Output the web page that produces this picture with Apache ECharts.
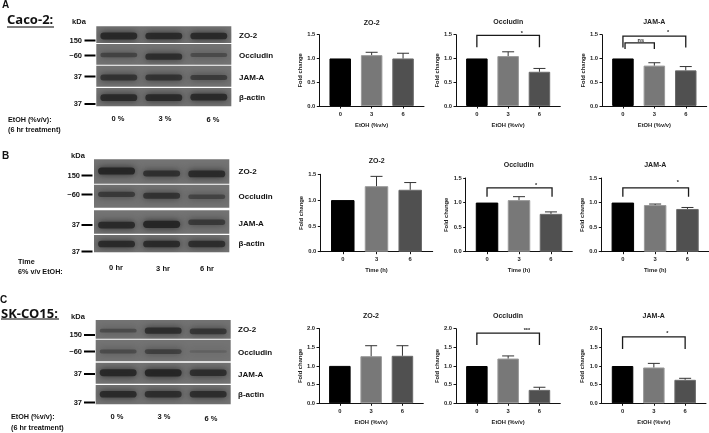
<!DOCTYPE html>
<html><head><meta charset="utf-8">
<style>html,body{margin:0;padding:0;background:#fff}#c{width:709px;height:433px;filter:blur(0.4px)}</style>
<script src="https://cdn.jsdelivr.net/npm/echarts@6/dist/echarts.min.js"></script>
</head><body><div id="c"></div>
<script>
// ---- bar chart data ----
const xTicks = [0, 3, 6];
const caco_zo2 = [1.0, 1.07, 1.0];      const caco_zo2_err = [null, 1.13, 1.11];
const caco_occ = [1.0, 1.05, 0.72];     const caco_occ_err = [null, 1.14, 0.79];
const caco_jam = [1.0, 0.85, 0.75];     const caco_jam_err = [null, 0.91, 0.83];
const time_zo2 = [1.0, 1.27, 1.2];      const time_zo2_err = [null, 1.46, 1.34];
const time_occ = [1.0, 1.05, 0.77];     const time_occ_err = [null, 1.12, 0.81];
const time_jam = [1.0, 0.95, 0.87];     const time_jam_err = [null, 0.97, 0.9];
const sk_zo2 = [1.0, 1.26, 1.27];       const sk_zo2_err = [null, 1.54, 1.54];
const sk_occ = [1.0, 1.2, 0.36];        const sk_occ_err = [null, 1.27, 0.43];
const sk_jam = [1.0, 0.96, 0.63];       const sk_jam_err = [null, 1.07, 0.67];
// brackets: from x, to x, top value, foot value
const caco_occ_br = [[0, 6, 1.486, 1.234]];
const caco_jam_br = [[0, 6, 1.47, 1.23], [0.2, 3, 1.33, 1.2]];
const time_occ_br = [[0, 6.1, 1.297, 1.12]];
const time_jam_br = [[0, 6.1, 1.297, 1.12]];
const sk_occ_br = [[0, 6, 1.88, 1.56]];
const sk_jam_br = [[0, 6, 1.78, 1.455]];
// significance labels: x, value, text
const caco_occ_sig = [[4.3, 1.53, '*']];
const caco_jam_sig = [[1.7, 1.37, 'ns'], [4.3, 1.54, '*']];
const time_occ_sig = [[4.6, 1.34, '*']];
const time_jam_sig = [[5.1, 1.4, '*']];
const sk_occ_sig = [[4.8, 1.94, '***']];
const sk_jam_sig = [[4.3, 1.87, '*']];
// ---- blot band data: vertical place in lane strip and strength ----
const laneNames = ['a', 'b', 'c'];
const caco_bands = [
  {pos: [.42, .42, .42], str: [.9, .85, .85]},
  {pos: [.47, .39, .47], str: [.45, .8, .35]},
  {pos: [.44, .44, .44], str: [.7, .7, .55]},
  {pos: [.47, .47, .5], str: [.85, .85, .85]}];
const time_bands = [
  {pos: [.52, .42, .40], str: [.95, .75, .85]},
  {pos: [.58, .52, .48], str: [.6, .7, .45]},
  {pos: [.37, .40, .49], str: [.85, .95, .6]},
  {pos: [.48, .48, .48], str: [.85, .85, .8]}];
const sk_bands = [
  {pos: [.43, .43, .39], str: [.35, .8, .65]},
  {pos: [.45, .45, .45], str: [.35, .5, .08]},
  {pos: [.52, .52, .52], str: [.9, .95, .8]},
  {pos: [.52, .52, .52], str: [.85, .8, .8]}];
// ---- layout ----
const barColors = ['#000000', '#787878', '#505050'];
const barBorders = ['#000000', '#9a9a9a', '#6a6a6a'];
const charts = [
 {t:'ZO-2',    d:caco_zo2,e:caco_zo2_err,name:'EtOH (%v/v)',max:1.5,step:.5,l:319.3,r:424,top:34.7,bot:106,bw:21.5,tx:371.7,ty:23.7},
 {t:'Occludin',d:caco_occ,e:caco_occ_err,name:'EtOH (%v/v)',max:1.5,step:.5,l:456,r:560.3,top:34.7,bot:106,bw:21.5,tx:508.3,ty:23,br:caco_occ_br,sig:caco_occ_sig},
 {t:'JAM-A',   d:caco_jam,e:caco_jam_err,name:'EtOH (%v/v)',max:1.5,step:.5,l:602,r:706.7,top:34.7,bot:106,bw:21.5,tx:654.3,ty:23,br:caco_jam_br,sig:caco_jam_sig},
 {t:'ZO-2',    d:time_zo2,e:time_zo2_err,name:'Time (h)',max:1.5,step:.5,l:320.3,r:432.7,top:174.3,bot:251.7,bw:23.5,tx:376.7,ty:161.7},
 {t:'Occludin',d:time_occ,e:time_occ_err,name:'Time (h)',max:1.5,step:.5,l:465.7,r:572.3,top:178,bot:251.7,bw:22.5,tx:518.7,ty:166,br:time_occ_br,sig:time_occ_sig},
 {t:'JAM-A',   d:time_jam,e:time_jam_err,name:'Time (h)',max:1.5,step:.5,l:601.3,r:709,top:178,bot:251.7,bw:22.5,tx:655.3,ty:166,br:time_jam_br,sig:time_jam_sig},
 {t:'ZO-2',    d:sk_zo2,e:sk_zo2_err,name:'EtOH (%v/v)',max:2,step:.5,l:319,r:423.3,top:328.5,bot:403.3,bw:21.5,tx:371,ty:316.3},
 {t:'Occludin',d:sk_occ,e:sk_occ_err,name:'EtOH (%v/v)',max:2,step:.5,l:456,r:560.3,top:328.7,bot:403.3,bw:21.5,tx:508,ty:316.3,br:sk_occ_br,sig:sk_occ_sig},
 {t:'JAM-A',   d:sk_jam,e:sk_jam_err,name:'EtOH (%v/v)',max:2,step:.5,l:601.7,r:706,top:328.7,bot:403.3,bw:21.5,tx:653.7,ty:316.3,br:sk_jam_br,sig:sk_jam_sig}
];
const blots = [
 {x:96.3,w:135,rows:[[26.3,43],[44,64.7],[65.7,86.7],[88,106.3]],bands:caco_bands},
 {x:94,w:135.3,rows:[[159.3,183.7],[184.7,207.7],[210.3,233.7],[235,252.3]],bands:time_bands},
 {x:95.7,w:135,rows:[[320,338.7],[339.7,361.3],[362.7,383.7],[385,404.3]],bands:sk_bands}
];
const font = '"Liberation Sans",Arial,sans-serif';
const grid=[],xAxis=[],yAxis=[],series=[],title=[],graphic=[];

charts.forEach((c)=>{
  const i=grid.length;
  grid.push({left:c.l,top:c.top,width:c.r-c.l,height:c.bot-c.top,containLabel:false});
  xAxis.push({gridIndex:i,type:'value',min:-2,max:8,
    name:c.name,nameLocation:'middle',nameGap:16,
    nameTextStyle:{fontFamily:font,fontWeight:'bold',fontSize:5.8,color:'#222'},
    axisLine:{show:true,onZero:false,lineStyle:{color:'#111',width:1}},
    axisTick:{show:true,length:2.5,customValues:xTicks,lineStyle:{color:'#111',width:1}},
    axisLabel:{show:true,customValues:xTicks,margin:5,fontFamily:font,fontWeight:'bold',fontSize:5.8,color:'#222'},
    splitLine:{show:false}});
  yAxis.push({gridIndex:i,type:'value',min:0,max:c.max,interval:c.step,
    name:'Fold change',nameLocation:'middle',nameGap:15.5,
    nameTextStyle:{fontFamily:font,fontWeight:'bold',fontSize:5.8,color:'#222'},
    axisLine:{show:true,onZero:false,lineStyle:{color:'#111',width:1}},
    axisTick:{show:true,length:2.5,lineStyle:{color:'#111',width:1}},
    axisLabel:{margin:4,fontFamily:font,fontWeight:'bold',fontSize:5.8,color:'#222',formatter:v=>v.toFixed(1)},
    splitLine:{show:false}});
  title.push({text:c.t,left:c.tx,top:c.ty-4,textAlign:'center',padding:0,
    textStyle:{fontFamily:font,fontWeight:'bold',fontSize:7,color:'#222'}});
  series.push({type:'bar',xAxisIndex:i,yAxisIndex:i,barWidth:c.bw,
    data:c.d.map((v,k)=>({value:[xTicks[k],v],itemStyle:{color:barColors[k],borderColor:barBorders[k],borderWidth:1}}))});
  series.push({type:'custom',xAxisIndex:i,yAxisIndex:i,z:5,clip:false,
    data:c.e.map((v,k)=>[xTicks[k],c.d[k],v]).filter(r=>r[2]!==null),
    renderItem:(p,api)=>{
      const a=api.coord([api.value(0),api.value(1)]),b=api.coord([api.value(0),api.value(2)]);
      const st={stroke:'#333',lineWidth:1,fill:null};
      return {type:'group',children:[
        {type:'line',shape:{x1:a[0],y1:a[1],x2:b[0],y2:b[1]},style:st},
        {type:'line',shape:{x1:b[0]-6,y1:b[1],x2:b[0]+6,y2:b[1]},style:st}]};
    }});
  if(c.br) series.push({type:'custom',xAxisIndex:i,yAxisIndex:i,z:6,clip:false,data:c.br,
    renderItem:(p,api)=>{
      const t0=api.coord([api.value(0),api.value(2)]),t1=api.coord([api.value(1),api.value(2)]);
      const f=api.coord([api.value(0),api.value(3)])[1];
      return {type:'polyline',shape:{points:[[t0[0],f],t0,t1,[t1[0],f]]},style:{stroke:'#1a1a1a',lineWidth:1.3,fill:null}};
    }});
  if(c.sig) series.push({type:'custom',xAxisIndex:i,yAxisIndex:i,z:6,clip:false,data:c.sig,
    dimensions:['x','y','t'],encode:{x:0,y:1},
    renderItem:(p,api)=>{
      const q=api.coord([api.value(0),api.value(1)]);
      return {type:'text',style:{x:q[0],y:q[1],text:c.sig[p.dataIndex][2],textAlign:'center',textVerticalAlign:'middle',
        fontFamily:font,fontWeight:'bold',fontSize:5.5,fill:'#222'}};
    }});
});

blots.forEach(b=>{
  b.rows.forEach((r,ri)=>{
    const i=grid.length;
    grid.push({show:true,left:b.x,top:r[0],width:b.w,height:r[1]-r[0],backgroundColor:'#737373',borderWidth:0});
    xAxis.push({gridIndex:i,type:'category',data:laneNames,show:false});
    yAxis.push({gridIndex:i,type:'value',min:0,max:1,show:false});
    const bd=b.bands[ri];
    series.push({type:'custom',xAxisIndex:i,yAxisIndex:i,clip:true,
      data:bd.pos.map((v,k)=>[k,v,bd.str[k]]),
      renderItem:(p,api)=>{
        const q=api.coord([api.value(0),api.value(1)]),s=api.value(2);
        const w=api.size([1,0])[0]*0.82,h=2+s*5.5;
        return {type:'rect',shape:{x:q[0]-w/2,y:q[1]-h/2,width:w,height:h,r:h/2},
          style:{fill:'#242424',opacity:.12+.85*s,shadowBlur:7,shadowColor:'#242424'}};
      }});
  });
});

function txt(x,y,s,size,align,weight,fam){
  graphic.push({type:'text',silent:true,style:{x,y,text:s,fontFamily:fam||font,fontWeight:weight||'bold',fontSize:size,
    textAlign:align||'left',textVerticalAlign:'middle',fill:'#111'}});
}
function mark(x1,x2,y,lw){graphic.push({type:'line',silent:true,shape:{x1,y1:y,x2,y2:y},style:{stroke:'#000',lineWidth:lw||2}});}
const sans='"Noto Sans","Open Sans",sans-serif';
// Panel A
txt(2,5,'A',10);txt(7,20,'Caco-2:',13,'left','bold',sans);mark(7,54,27,1);
txt(79,22,'kDa',7.5,'center');
[['150',40.5],['~60',55.5],['37',76.5],['37',104]].forEach(a=>{txt(82,a[1],a[0],7.5,'right');mark(84.5,95.5,a[1],2);});
[['ZO-2',36],['Occludin',55.5],['JAM-A',78],['β-actin',98]].forEach(a=>txt(239,a[1],a[0],8));
[['0 %',118,118.5],['3 %',165,118.5],['6 %',213,120]].forEach(a=>txt(a[1],a[2],a[0],7.5,'center'));
txt(8,120,'EtOH (%v/v):',7.2);txt(8,130,'(6 hr treatment)',7.2);
// Panel B
txt(2,156,'B',10);txt(78,155.5,'kDa',7.5,'center');
[['150',175.5],['~60',194.5],['37',225],['37',251.5]].forEach(a=>{txt(80,a[1],a[0],7.5,'right');mark(81.5,92.5,a[1],2);});
[['ZO-2',172],['Occludin',197],['JAM-A',224],['β-actin',244]].forEach(a=>txt(238.5,a[1],a[0],8));
[['0 hr',116,268],['3 hr',163,268.5],['6 hr',207,268.5]].forEach(a=>txt(a[1],a[2],a[0],7.5,'center'));
txt(18,262,'Time',7.2);txt(18,272.5,'6% v/v EtOH:',7.2);
// Panel C
txt(0,300,'C',10);txt(1,314,'SK-CO15:',13,'left','bold',sans);mark(1,59,319,1);
txt(78,317,'kDa',7.5,'center');
[['150',335],['~60',351.5],['37',374],['37',402.5]].forEach(a=>{txt(82,a[1],a[0],7.5,'right');mark(84,95,a[1],2);});
[['ZO-2',330],['Occludin',353],['JAM-A',375],['β-actin',394.5]].forEach(a=>txt(238,a[1],a[0],8));
[['0 %',117,417],['3 %',164,417],['6 %',211,419]].forEach(a=>txt(a[1],a[2],a[0],7.5,'center'));
txt(11,417,'EtOH (%v/v):',7.2);txt(11,428,'(6 hr treatment)',7.2);

const chart=echarts.init(document.getElementById('c'),null,{renderer:'canvas'});
chart.setOption({animation:false,backgroundColor:'#fff',title,grid,xAxis,yAxis,series,graphic,tooltip:{show:false}});
</script></body></html>
